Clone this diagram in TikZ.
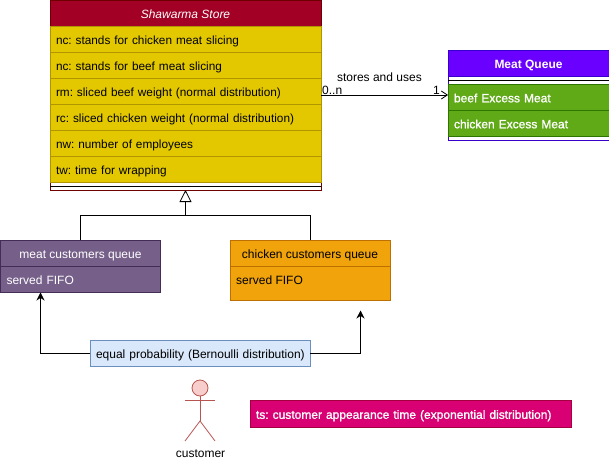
\documentclass[tikz,border=0pt]{standalone}
\usepackage{fontspec}
\setmainfont{Liberation Sans}
\newfontface\heavyface[FakeBold=1.2]{Liberation Sans}
\usepackage{xcolor}
\usetikzlibrary{arrows.meta}

\definecolor{storedark}{HTML}{A20025}
\definecolor{storeline}{HTML}{6F0000}
\definecolor{rowyellow}{HTML}{E3C800}
\definecolor{rowline}{HTML}{B09500}
\definecolor{queueviolet}{HTML}{6A00FF}
\definecolor{queueline}{HTML}{3700CC}
\definecolor{rowgreen}{HTML}{60A917}
\definecolor{greenline}{HTML}{2D7600}
\definecolor{meatfill}{HTML}{76608A}
\definecolor{meatline}{HTML}{432D57}
\definecolor{chickfill}{HTML}{F0A30A}
\definecolor{chickline}{HTML}{BD7000}
\definecolor{probfill}{HTML}{DAE8FC}
\definecolor{probline}{HTML}{6C8EBF}
\definecolor{tsfill}{HTML}{D80073}
\definecolor{tsline}{HTML}{A50040}
\definecolor{actorfill}{HTML}{F8CECC}
\definecolor{actorline}{HTML}{B85450}

\tikzset{
	box/.style={draw, anchor=north west, inner sep=0pt, outer sep=0pt, text height=10.6pt, text depth=0pt, font=\fontsize{12}{14}\selectfont},
	head/.style={box, minimum height=26pt, align=center},
	row/.style={box, minimum height=26pt, inner xsep=6pt, align=left},
	conn/.style={draw=black, line width=0.8pt},
	endlabel/.style={inner sep=0pt, font=\fontsize{12}{14}\selectfont},
}

\begin{document}
\frenchspacing
\begin{tikzpicture}[x=1pt, y=-1pt]

\useasboundingbox (0,0) rectangle (609,462);

% store
\node[box, fill=white, draw=storeline, minimum width=271pt, minimum height=190pt] (store) at (50,0) {};
\draw[black] (50,186)--(321,186);
\node[head, fill=storedark, draw=storeline, text=white, minimum width=271pt, font=\fontsize{12}{14}\selectfont\itshape] (storehead) at (50,0) {Shawarma Store};

\foreach \a/\b in {0/{nc: stands for chicken meat slicing},
	1/{nc: stands for beef meat slicing},
	2/{rm: sliced beef weight (normal distribution)},
	3/{rc: sliced chicken weight (normal distribution)},
	4/{nw: number of employees},
	5/{tw: time for wrapping}}{
	\node[row, fill=rowyellow, draw=rowline, text width=259pt, font=\fontsize{11.8}{14}\selectfont] (storerow\a) at (50,26+26*\a) {\b};
}

% queue of excess meat
\node[box, fill=white, draw=queueline, minimum width=161pt, minimum height=90pt] (queue) at (448,50) {};
\draw[black] (448,80)--(609,80);
\node[head, fill=queueviolet, draw=queueline, text=white, minimum width=161pt, font=\fontsize{12}{14}\selectfont\bfseries] (queuehead) at (448,50) {Meat Queue};
\node[row, fill=rowgreen, draw=greenline, text=white, text width=149pt] (beefrow) at (448,84) {\heavyface beef Excess Meat};
\node[row, fill=rowgreen, draw=greenline, text=white, text width=149pt] (chickrow) at (448,110) {\heavyface chicken Excess Meat};

% customer queues
\node[head, fill=meatfill, draw=meatline, text=white, minimum width=160pt] (meathead) at (0.5,240) {meat customers queue};
\node[row, fill=meatfill, draw=meatline, text=white, text width=148pt] (meatrow) at (0.5,266) {served FIFO};
\node[head, fill=chickfill, draw=chickline, minimum width=160pt] (chickhead) at (230,240) {chicken customers queue};
\node[row, fill=chickfill, draw=chickline, text width=148pt, minimum height=34pt] (chickrow2) at (230,266) {};
\node[endlabel, anchor=west, text height=10.6pt, text depth=0pt] (chicktext) at (236,279) {served FIFO};

% choice of queue
\node[row, fill=probfill, draw=probline, text width=208pt] (prob) at (90,340) {\mbox{equal probability (Bernoulli distribution)}};

\coordinate (meatin) at (40.5,292.5);
\coordinate (chickin) at (360.5,310.5);
\coordinate (gen) at (185.5,215);

\draw[conn] (meathead.north) |- (gen);
\draw[conn] (chickhead.north) |- (gen);
\draw[conn, -{Triangle[open, fill=white, length=12pt, width=12pt]}] (gen) -- (store.south);
\draw[conn, -{Stealth[length=8pt, width=8pt]}] (prob.west) -| (meatin);
\draw[conn, -{Stealth[length=8pt, width=8pt]}] (prob.east) -| (chickin);
\draw[conn, -{Straight Barb[length=6pt, width=8pt]}] (store.east) -- (queue.west) node[endlabel, pos=0.46, above=13pt] (uses) {stores and uses};

\node[endlabel, anchor=west] (manyend) at (322,90) {0..n};
\node[endlabel, anchor=east] (oneend) at (440,90) {1};

% customer
\node[circle, draw=actorline, fill=actorfill, line width=0.8pt, minimum size=16pt, inner sep=0pt] (actorhead) at (200,388) {};
\coordinate (hip) at (200,421);
\coordinate (armleft) at (185,400);
\coordinate (armright) at (215,400);
\coordinate (legleft) at (185,441);
\coordinate (legright) at (215,441);
\draw[actorline, line width=0.8pt] (actorhead.south)--(hip);
\draw[actorline, line width=0.8pt] (armleft)--(armright);
\draw[actorline, line width=0.8pt] (legleft)--(hip)--(legright);
\node[endlabel] (actorname) at (200.5,454) {customer};

\node[row, fill=tsfill, draw=tsline, text=white, text width=309pt, minimum height=27pt] (ts) at (250,400) {\heavyface ts: customer appearance time (exponential distribution)};

\end{tikzpicture}
\end{document}
